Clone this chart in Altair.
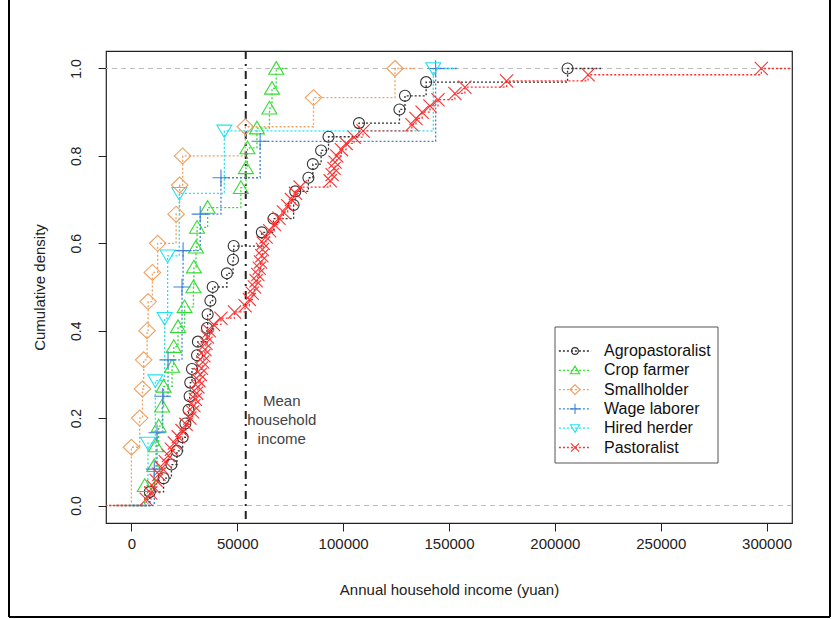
import altair as alt
import pandas as pd
import numpy as np

# ---------------- data ----------------
groups = ["Agropastoralist", "Crop farmer", "Smallholder", "Wage laborer",
          "Hired herder", "Pastoralist"]

agropastoralist = [8700, 15200, 18900, 21500, 24200, 25500, 27000, 27500, 27800,
                   28600, 31000, 31400, 35700, 36000, 37300, 38400, 45100, 48000,
                   48300, 61600, 67100, 76600, 77400, 83600, 85700, 89600, 93100,
                   107500, 126600, 129200, 139200, 206000]
crop_farmer = [6300, 10800, 11600, 12900, 14500, 15200, 19200, 20000, 22000,
               25100, 29300, 29500, 30500, 31000, 36000, 51700, 54100, 54800,
               59300, 65200, 66400, 68400]
smallholder = [0, 0, 3900, 5200, 5800, 7400, 7900, 9900, 12400, 21100, 22800,
               24200, 53800, 86000, 124500]
wage_laborer = [10800, 12100, 14800, 17300, 23900, 23900, 24400, 32500, 42300,
                60800, 143700, 143700]
hired_herder = [7800, 11300, 15700, 17100, 22600, 43900, 142600]
pastoralist = [7000, 9150, 10400, 11700, 13000, 14400, 16000, 17500, 18900, 20300,
               22100, 23900, 25800, 27600, 28900, 29500, 30200, 30800, 31400, 31900,
               32500, 33100, 33700, 34200, 34700, 35200, 35900, 36800, 38800, 42300,
               48700, 53700, 55700, 57100, 58100, 58900, 59700, 60400, 61000, 61600,
               61900, 62300, 63600, 65300, 67500, 69700, 71800, 73800, 75600, 77500,
               79700, 93900, 94800, 95700, 96200, 97000, 99200, 101400, 105200, 109400,
               132500, 134400, 137300, 141000, 144800, 152800, 157500, 177200, 215700,
               297500]

mean_income = [54000]
mean_label = ["Mean\nhousehold\nincome"]
mean_label_x = [71000]
mean_label_y = [0.239]

x_ticks = [0, 50000, 100000, 150000, 200000, 250000, 300000]
y_ticks = [0.0, 0.2, 0.4, 0.6, 0.8, 1.0]
ref_levels = [0.0, 1.0]

# ---------------- styles ----------------
colors = ["#333333", "#30dd30", "#f0a060", "#3f83d6", "#22e2f2", "#ff3030"]
shape_paths = ["circle",
               "M0,-1.25L1.36,1.05L-1.36,1.05Z",
               "M0,-1.45L1.5,0L0,1.45L-1.5,0Z",
               "M-1.55,0L1.55,0M0,-1.5L0,1.5",
               "M0,1.25L1.36,-1.05L-1.36,-1.05Z",
               "M-1.2,-1.2L1.2,1.2M-1.2,1.2L1.2,-1.2"]
FONT = "Liberation Sans"

# line series get their own keys so that their legend is not merged with the markers'
line_keys = [g + " (line)" for g in groups]

# ---------------- ECDF tables ----------------
pts, lines = [], []
for g, lk, vals in zip(groups, line_keys, [agropastoralist, crop_farmer, smallholder,
                                            wage_laborer, hired_herder, pastoralist]):
    v = np.sort(np.asarray(vals, dtype=float))
    n = len(v)
    knots = np.unique(v)
    F = [float(np.sum(v <= k)) / n for k in knots]
    dr = max(0.08 * (knots[-1] - knots[0]), float(np.median(np.diff(knots))))
    idx = 0
    lines.append({"series": lk, "x": knots[0] - dr, "y": 0.0, "i": idx})
    for k, f in zip(knots, F):
        idx += 1
        pts.append({"group": g, "x": k, "y": f})
        lines.append({"series": lk, "x": k, "y": f, "i": idx})
    lines.append({"series": lk, "x": knots[-1] + dr, "y": 1.0, "i": idx + 1})
pts = pd.DataFrame(pts)
lines = pd.DataFrame(lines)

xscale = alt.Scale(domain=[-12000, 312000], nice=False, zero=False)
yscale = alt.Scale(domain=[-0.04, 1.04], nice=False, zero=False)

x_enc = alt.X("x:Q", scale=xscale,
              axis=alt.Axis(values=x_ticks, format="d", title="Annual household income (yuan)",
                            tickSize=8, tickColor="#222", domain=False, grid=False,
                            labelFontSize=15, labelColor="#222", labelPadding=5,
                            titleFontSize=15, titleFontWeight="normal", titleColor="#222",
                            titlePadding=31, labelFont=FONT, titleFont=FONT))
y_enc = alt.Y("y:Q", scale=yscale,
              axis=alt.Axis(values=y_ticks, format=".1f", title="Cumulative density",
                            tickSize=8, tickColor="#222", domain=False, grid=False,
                            labelAngle=270, labelAlign="center", labelBaseline="bottom",
                            labelFontSize=14, labelColor="#222", labelPadding=15,
                            titleFontSize=15, titleFontWeight="normal", titleColor="#222",
                            titlePadding=22, labelFont=FONT, titleFont=FONT))

LEG_X, LEG_Y = 461, 292

legend_common = dict(orient="none", legendX=LEG_X, legendY=LEG_Y, title=None,
                     symbolSize=45, labelFontSize=16, labelFont=FONT, labelColor="#111",
                     labelOffset=21, rowPadding=3.3, padding=0)

refs = alt.Chart(pd.DataFrame({"y": ref_levels})).mark_rule(
    color="#bbbbbb", strokeDash=[5, 4], strokeWidth=1
).encode(y=alt.Y("y:Q", scale=yscale))

mean_rule = alt.Chart(pd.DataFrame({"x": mean_income})).mark_rule(
    color="#222222", strokeDash=[8, 5, 2, 5], strokeWidth=2
).encode(x=alt.X("x:Q", scale=xscale))

step_lines = alt.Chart(lines).mark_line(
    interpolate="step-after", strokeDash=[2, 2], strokeWidth=1.3, clip=True
).encode(
    x=x_enc, y=y_enc,
    stroke=alt.Stroke("series:N", scale=alt.Scale(domain=line_keys, range=colors),
                      legend=alt.Legend(symbolType="M-4.8,0L4.8,0", symbolDash=[2, 2],
                                        symbolStrokeWidth=1.3, labelExpr="''",
                                        **legend_common)),
    detail="series:N",
    order=alt.Order("i:Q"),
)

points = alt.Chart(pts).mark_point(filled=False, size=121, strokeWidth=1.1, opacity=1).encode(
    x=alt.X("x:Q", scale=xscale), y=alt.Y("y:Q", scale=yscale),
    color=alt.Color("group:N", scale=alt.Scale(domain=groups, range=colors),
                    legend=alt.Legend(symbolStrokeWidth=1.1, **legend_common)),
    shape=alt.Shape("group:N", scale=alt.Scale(domain=groups, range=shape_paths),
                    legend=alt.Legend(symbolStrokeWidth=1.1, **legend_common)),
)

mean_text = alt.Chart(pd.DataFrame({"x": mean_label_x, "y": mean_label_y,
                                    "t": mean_label})).mark_text(
    align="center", baseline="middle", lineBreak="\n", lineHeight=19,
    fontSize=15, font=FONT, color="#444444"
).encode(x=alt.X("x:Q", scale=xscale), y=alt.Y("y:Q", scale=yscale), text="t:N")

one = pd.DataFrame({"a": [0]})
legend_box = alt.Chart(one).mark_rect(fill="white", stroke="#555555", strokeWidth=1).encode(
    x=alt.value(449), x2=alt.value(612), y=alt.value(276), y2=alt.value(412))

frame_left = alt.Chart(one).mark_rule(color="black", strokeWidth=2).encode(
    x=alt.value(-97), y=alt.value(-51), y2=alt.value(566))
frame_right = alt.Chart(one).mark_rule(color="black", strokeWidth=2).encode(
    x=alt.value(724), y=alt.value(-51), y2=alt.value(566))
frame_bottom = alt.Chart(one).mark_rule(color="black", strokeWidth=2).encode(
    x=alt.value(-97), x2=alt.value(724), y=alt.value(566))

chart = alt.layer(
    frame_left, frame_right, frame_bottom, refs, mean_rule, legend_box,
    step_lines, points, mean_text
).resolve_legend(color="shared", shape="shared").properties(
    width=686, height=472,
    autosize=alt.AutoSizeParams(type="none"),
    padding={"left": 106, "top": 51, "right": 41, "bottom": 96},
    background="white",
).configure_view(stroke="#222222", strokeWidth=1.2)

chart.save("out.html", embed_options={"renderer": "svg", "actions": False})
